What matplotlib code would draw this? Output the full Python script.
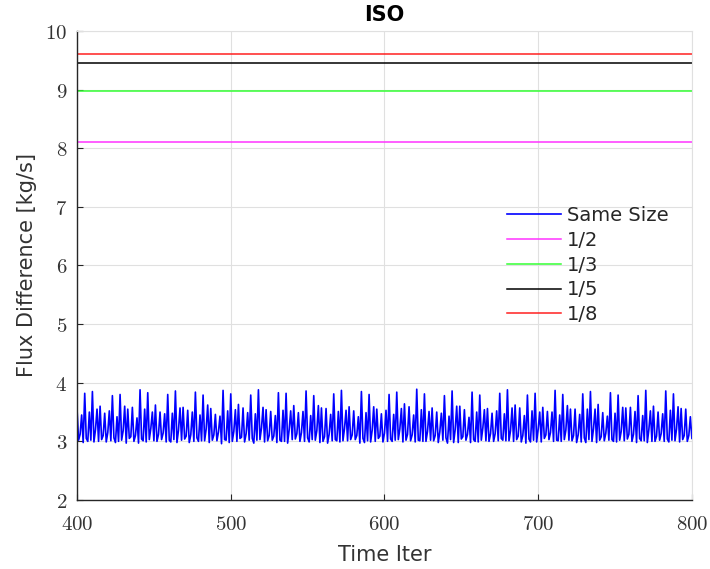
import numpy as np
import matplotlib
matplotlib.use('Agg')
import matplotlib.pyplot as plt

plt.rcParams['font.family'] = 'DejaVu Sans'
plt.rcParams['mathtext.fontset'] = 'cm'

# time iterations 400..800
iters = np.arange(400, 801)

# flux difference for the same-size case, one value per iteration
same_size = [
    3.55, 3.02, 3.12, 3.45, 2.98, 3.82, 3.05, 3.00, 3.50, 3.02, 3.85, 2.99, 3.20, 3.55, 3.00, 3.60, 3.03, 3.10,
    3.48, 2.99, 3.15, 3.52, 3.01, 3.78, 3.06, 2.98, 3.42, 3.00, 3.80, 3.02, 3.18, 3.60, 2.97, 3.55, 3.05, 3.08,
    3.58, 3.00, 3.10, 3.40, 2.97, 3.88, 3.04, 3.01, 3.55, 2.99, 3.83, 3.03, 3.22, 3.50, 3.01, 3.62, 3.00, 3.12,
    3.50, 3.03, 3.14, 3.47, 2.99, 3.80, 3.02, 2.99, 3.48, 3.03, 3.86, 2.98, 3.19, 3.57, 3.02, 3.58, 3.04, 3.09,
    3.53, 2.98, 3.11, 3.50, 3.00, 3.84, 3.06, 3.00, 3.45, 3.01, 3.79, 3.01, 3.21, 3.62, 2.98, 3.56, 3.02, 3.11,
    3.46, 3.01, 3.16, 3.43, 2.96, 3.87, 3.03, 3.02, 3.52, 2.98, 3.81, 3.00, 3.17, 3.54, 3.00, 3.63, 3.05, 3.07,
    3.57, 2.99, 3.13, 3.49, 3.02, 3.79, 3.05, 2.97, 3.47, 3.02, 3.88, 3.03, 3.23, 3.58, 2.99, 3.54, 3.01, 3.10,
    3.51, 3.02, 3.09, 3.44, 2.98, 3.83, 3.02, 3.00, 3.53, 3.00, 3.82, 2.97, 3.20, 3.52, 3.03, 3.61, 3.04, 3.13,
    3.49, 3.00, 3.15, 3.51, 3.00, 3.86, 3.06, 2.99, 3.44, 3.03, 3.78, 3.02, 3.18, 3.61, 2.98, 3.57, 3.00, 3.08,
    3.56, 2.97, 3.12, 3.46, 3.01, 3.81, 3.03, 3.01, 3.51, 2.99, 3.87, 3.01, 3.22, 3.53, 3.01, 3.59, 3.03, 3.11,
    3.52, 3.03, 3.10, 3.42, 2.97, 3.85, 3.05, 2.98, 3.49, 3.01, 3.80, 2.99, 3.19, 3.59, 3.00, 3.55, 3.05, 3.09,
    3.47, 2.99, 3.14, 3.53, 3.00, 3.80, 3.04, 3.00, 3.46, 3.02, 3.84, 3.03, 3.21, 3.56, 2.99, 3.64, 3.02, 3.12,
    3.59, 3.01, 3.11, 3.45, 2.99, 3.89, 3.02, 3.01, 3.54, 3.00, 3.81, 3.00, 3.17, 3.51, 3.02, 3.57, 3.01, 3.10,
    3.50, 2.98, 3.16, 3.48, 3.02, 3.78, 3.06, 2.97, 3.43, 3.03, 3.86, 2.98, 3.20, 3.60, 2.98, 3.60, 3.04, 3.08,
    3.54, 3.02, 3.12, 3.41, 2.98, 3.84, 3.03, 3.00, 3.50, 2.99, 3.79, 3.02, 3.23, 3.54, 3.01, 3.56, 3.00, 3.13,
    3.48, 3.00, 3.13, 3.52, 3.01, 3.82, 3.05, 3.02, 3.47, 3.01, 3.88, 3.01, 3.18, 3.57, 3.00, 3.62, 3.03, 3.09,
    3.57, 2.99, 3.10, 3.44, 2.97, 3.79, 3.04, 2.99, 3.52, 3.02, 3.82, 2.99, 3.21, 3.50, 2.99, 3.58, 3.05, 3.11,
    3.51, 3.03, 3.15, 3.50, 3.00, 3.87, 3.02, 3.01, 3.45, 3.00, 3.80, 3.03, 3.19, 3.61, 3.02, 3.55, 3.01, 3.10,
    3.55, 2.98, 3.11, 3.46, 2.99, 3.81, 3.06, 2.98, 3.55, 3.03, 3.85, 3.00, 3.22, 3.55, 2.98, 3.63, 3.02, 3.08,
    3.49, 3.01, 3.14, 3.43, 3.02, 3.83, 3.03, 3.00, 3.48, 2.99, 3.79, 3.02, 3.17, 3.58, 3.01, 3.57, 3.04, 3.12,
    3.58, 3.00, 3.12, 3.51, 2.98, 3.78, 3.05, 3.01, 3.44, 3.01, 3.87, 2.98, 3.20, 3.52, 3.00, 3.60, 3.00, 3.09,
    3.50, 3.02, 3.13, 3.47, 3.00, 3.86, 3.04, 2.99, 3.53, 3.02, 3.81, 3.01, 3.21, 3.59, 2.99, 3.56, 3.03, 3.10,
    3.55, 3.00, 3.10, 3.42, 3.05,
]

# the refined cases stay practically flat over this window
half_level = 8.10
third_level = 8.97
fifth_level = 9.46
eighth_level = 9.60

labels = ['Same Size', '1/2', '1/3', '1/5', '1/8']
colors = ['#0000ff', '#ff33ff', '#33ff33', '#000000', '#ff2020']

fig = plt.figure(figsize=(7.10, 5.69), dpi=100)
ax = fig.add_axes([0.1085, 0.1213, 0.866, 0.8242])

ax.plot(iters, same_size, color=colors[0], lw=1.2, label=labels[0])
for lev, lab, col in zip([half_level, third_level, fifth_level, eighth_level], labels[1:], colors[1:]):
    ax.plot(iters, [lev] * len(iters), color=col, lw=1.1, label=lab)

ax.set_xlim(400, 800)
ax.set_ylim(2, 10)
xt = [400, 500, 600, 700, 800]
yt = [2, 3, 4, 5, 6, 7, 8, 9, 10]
ax.set_xticks(xt)
ax.set_yticks(yt)
ax.set_xticklabels(['$%d$' % v for v in xt], fontsize=15, color='#333333')
ax.set_yticklabels(['$%d$' % v for v in yt], fontsize=15, color='#333333')
ax.tick_params(direction='in', length=4, width=0.8, color='#262626')
ax.tick_params(axis='x', pad=10)
ax.tick_params(axis='y', pad=7)

ax.grid(True, color='#e0e0e0', lw=0.8)
ax.set_axisbelow(True)
for side in ['top', 'right']:
    ax.spines[side].set_color('#e0e0e0')
    ax.spines[side].set_linewidth(0.8)
for side in ['left', 'bottom']:
    ax.spines[side].set_color('#262626')
    ax.spines[side].set_linewidth(1.0)

ax.set_xlabel('Time Iter', fontsize=15, color='#333333', labelpad=8)
ax.set_ylabel('Flux Difference [kg/s]', fontsize=15, color='#333333', labelpad=6)
ax.set_title('ISO', fontsize=15, fontweight='bold', pad=7)

leg = ax.legend(loc='upper left', bbox_to_anchor=(0.699, 0.627), frameon=False,
                fontsize=14, handlelength=2.8, handletextpad=0.3, labelspacing=0.3,
                borderpad=0, borderaxespad=0)
for t in leg.get_texts():
    t.set_color('#262626')

fig.savefig('out.png', dpi=100)
